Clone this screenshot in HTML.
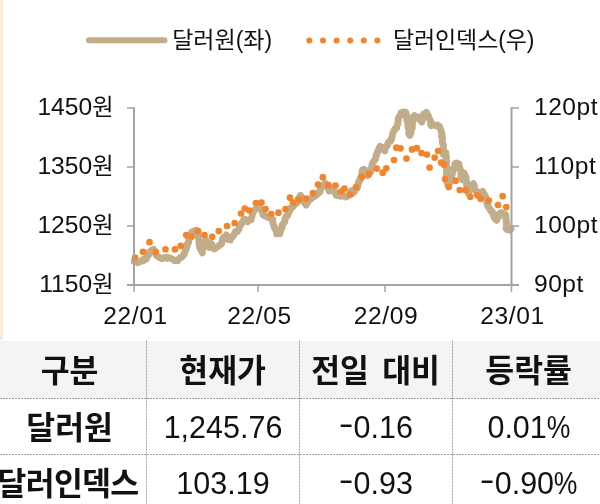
<!DOCTYPE html>
<html lang="ko"><head><meta charset="utf-8"><title>달러원 · 달러인덱스</title>
<style>
html,body{margin:0;padding:0;background:#fff;}
body{width:600px;height:504px;overflow:hidden;position:relative;font-family:"Liberation Sans", "Noto Sans CJK KR", sans-serif;color:#111;}
.strip{position:absolute;left:0;top:0;width:3px;height:340px;background:#fdebd3;}
svg{position:absolute;left:0;top:0;}
svg text{font-family:"Liberation Sans", "Noto Sans CJK KR", sans-serif;fill:#111;}
table{position:absolute;left:-6.5px;top:340.5px;width:612px;border-collapse:collapse;table-layout:fixed;}
td,th{width:153px;padding:0;text-align:center;white-space:nowrap;overflow:visible;}
th{height:57.5px;background:#f4f4f4;font-weight:bold;font-size:31.4px;}
td{height:56px;font-size:30.5px;}
td.h{font-weight:bold;font-size:31.4px;}
.k{display:inline-block;letter-spacing:0;word-spacing:4.5px;margin-left:-0.8px;position:relative;top:-0.7px;}
.k5{letter-spacing:-0.7px;margin-left:-4px;}
.m{display:inline-block;transform:translateY(-4.5px) scaleX(1.45);margin:0 2.2px 0 2.2px;}
.p{display:inline-block;transform:scaleX(0.87);margin:0 -1.7px;}
.n{position:relative;top:1.5px;}
.grid line{stroke:#a39f97;stroke-width:1;stroke-dasharray:2 1;}
</style></head><body>
<div class="strip"></div>
<svg width="600" height="340" viewBox="0 0 600 340">
<polyline points="134.3,261.4 136.4,261.7 138.0,262.8 138.9,262.3 140.2,261.5 141.6,260.3 143.3,260.8 144.3,258.8 146.1,259.3 147.1,256.8 148.5,254.7 149.4,253.6 149.5,252.1 150.5,252.2 151.2,250.6 153.6,249.3 154.2,250.2 154.4,252.0 155.7,253.9 156.6,255.7 158.0,256.6 159.6,257.7 160.4,257.8 162.0,258.7 164.2,257.6 166.5,257.3 167.3,258.3 168.3,257.6 169.5,257.8 171.8,258.9 173.4,259.7 174.7,260.7 176.1,260.9 177.8,260.6 179.0,258.8 180.1,257.6 182.1,256.9 183.6,254.6 184.4,254.3 184.7,252.3 185.5,250.0 186.1,249.5 186.5,247.0 187.1,246.7 187.2,244.4 188.0,243.7 188.7,242.3 188.6,240.0 189.1,239.5 190.1,236.8 189.7,235.5 190.4,234.8 191.4,233.2 191.5,232.4 193.4,231.4 195.5,230.3 196.3,231.0 197.7,230.7 198.2,233.5 198.5,235.0 198.3,235.8 198.3,237.7 198.6,238.2 198.9,239.9 199.2,241.2 199.0,242.9 199.3,244.8 199.4,247.2 200.1,247.4 200.4,249.1 201.2,250.0 202.3,252.9 202.5,250.5 202.6,248.3 203.3,247.1 204.3,245.4 204.2,245.1 205.4,242.0 206.0,240.1 206.8,243.4 207.9,244.4 208.3,245.3 209.2,247.5 210.5,246.0 211.3,243.5 212.3,246.2 212.9,247.2 213.3,248.4 214.7,249.0 216.4,247.2 217.5,246.6 218.8,246.0 220.5,244.2 221.4,243.9 222.3,241.1 222.4,239.2 223.2,237.5 224.9,237.2 226.3,235.0 226.8,236.9 226.9,238.0 228.4,239.5 230.3,240.0 230.5,239.2 231.5,237.9 233.0,235.8 233.7,235.3 235.2,232.4 235.6,231.4 237.4,231.6 237.6,230.6 239.1,228.9 239.2,227.4 239.6,225.1 241.1,224.9 241.4,224.1 241.9,222.7 243.3,220.5 243.8,219.6 244.7,219.2 246.3,219.9 247.6,221.7 249.4,219.9 251.1,219.7 251.4,218.3 252.0,216.1 252.5,213.6 252.9,212.4 253.5,212.0 254.7,210.0 256.2,208.6 257.3,207.5 259.1,207.0 259.4,207.8 260.4,208.4 261.8,210.0 262.1,212.1 262.9,213.2 263.1,215.0 264.5,215.8 266.0,216.1 267.5,217.3 269.2,217.7 270.9,217.6 272.1,219.8 272.8,219.8 272.6,221.9 273.1,223.0 273.6,225.3 274.8,227.4 274.7,228.7 275.7,229.4 276.6,232.3 276.7,233.8 278.1,233.0 280.0,233.6 279.8,231.7 280.8,230.4 281.2,229.2 282.1,227.3 282.3,226.6 282.1,225.1 283.1,224.0 283.3,223.4 284.8,221.8 284.9,219.1 285.5,218.5 286.5,215.8 287.4,215.7 288.6,213.1 288.6,212.8 289.7,211.0 289.9,208.5 291.2,207.9 291.6,207.8 293.1,206.5 293.6,205.6 294.6,204.7 296.0,202.7 297.1,202.8 297.8,199.3 299.0,198.2 299.6,196.7 300.6,195.5 301.4,197.1 302.5,198.6 302.9,199.9 303.3,201.1 304.5,202.6 306.2,205.1 306.4,203.7 307.9,201.8 308.6,201.1 309.0,200.6 309.9,199.0 311.2,198.9 311.8,197.6 313.5,196.9 314.6,196.1 315.6,195.3 316.7,195.1 318.1,192.7 319.1,192.6 320.5,190.8 320.5,188.5 321.2,187.4 321.7,185.9 323.0,185.3 325.0,183.1 325.5,185.3 326.8,185.7 327.3,187.5 328.6,189.3 329.2,191.0 330.2,189.9 331.4,189.5 332.5,188.1 333.5,189.9 334.4,191.7 335.3,193.3 336.2,195.2 336.9,195.7 339.0,195.4 340.2,196.3 341.0,196.1 343.4,195.2 344.7,196.6 345.6,197.0 347.0,196.6 348.3,195.6 349.1,194.7 350.2,193.3 350.7,191.2 351.6,190.7 353.2,193.0 354.5,191.4 355.4,190.3 356.1,187.9 357.3,188.0 357.5,186.3 358.2,184.1 358.7,183.0 358.6,181.6 359.7,180.2 360.2,180.2 360.5,177.5 361.0,176.5 361.8,174.8 362.1,172.2 362.1,170.9 363.2,169.4 364.3,169.5 365.1,170.6 366.5,172.9 367.3,173.8 367.9,175.6 368.6,173.4 369.8,172.0 370.7,171.8 370.2,169.5 371.5,169.0 371.6,166.3 371.8,166.0 372.3,163.9 372.9,162.5 374.4,160.4 374.9,159.7 375.7,158.6 375.7,157.6 376.6,154.6 376.6,154.1 377.6,152.3 377.8,151.0 378.5,150.4 378.8,148.9 380.1,146.3 381.3,148.0 382.4,147.9 383.0,149.3 384.8,150.9 385.0,149.0 385.7,146.8 386.3,146.6 387.3,145.5 388.0,142.9 389.0,141.4 390.4,141.3 391.4,139.5 391.6,138.1 392.4,135.8 392.7,133.4 393.2,132.5 393.8,131.3 394.7,129.0 396.8,127.9 396.7,126.8 396.9,126.0 397.9,123.6 397.9,122.1 398.2,120.8 398.1,118.8 398.5,118.6 399.6,115.8 400.8,115.6 401.1,112.5 402.5,112.2 404.2,112.0 405.7,112.1 406.3,114.8 406.7,115.6 406.6,117.4 406.8,118.7 406.8,120.2 407.9,121.5 407.7,124.0 408.3,124.8 407.9,126.4 408.3,128.3 409.1,130.5 409.2,130.6 408.6,133.3 409.7,134.4 409.6,135.1 409.8,135.3 410.6,133.8 411.2,131.2 410.7,129.6 411.5,129.2 412.3,127.8 412.3,126.2 412.4,124.2 412.2,123.0 412.7,121.6 413.3,118.9 413.1,117.2 413.8,116.4 414.5,115.6 416.0,116.8 417.1,116.8 418.6,117.0 419.3,119.2 420.9,120.9 421.8,122.0 421.6,120.0 422.8,119.3 422.6,116.5 423.3,116.2 423.7,113.9 425.5,114.5 426.5,112.3 427.2,114.4 428.2,115.5 428.9,118.0 429.2,118.5 430.2,120.2 430.7,121.5 430.6,124.0 431.3,125.8 433.0,124.4 434.2,124.9 436.2,125.8 437.4,125.1 439.2,126.5 439.6,126.4 440.0,128.6 441.2,131.1 441.5,132.9 442.0,133.4 441.5,136.2 442.3,136.3 442.4,138.6 442.4,140.2 442.3,141.2 442.5,143.3 443.4,144.5 443.5,146.2 443.0,148.9 443.6,149.7 443.0,151.3 443.4,153.7 443.4,154.3 445.0,152.4 445.4,152.6 445.9,152.8 445.3,154.4 446.3,156.4 446.3,159.1 446.0,159.6 446.8,161.8 446.2,163.6 446.4,164.4 446.2,166.9 447.1,168.2 447.1,168.7 446.4,171.1 447.1,173.6 446.5,173.9 446.5,175.9 447.0,177.0 446.8,179.5 446.8,181.2 447.1,182.0 447.3,183.7 448.2,184.7 448.6,184.8 449.6,182.4 450.3,182.1 450.9,181.3 451.7,179.8 451.3,176.6 451.4,175.8 452.3,174.2 452.1,172.6 452.7,171.5 453.3,170.4 453.7,167.6 454.4,166.5 454.6,165.2 455.2,163.5 456.5,163.0 458.3,163.6 459.0,164.2 459.2,167.1 459.7,167.4 460.3,169.8 460.9,170.5 460.7,173.4 461.4,175.3 461.0,175.8 461.4,177.3 462.6,179.6 462.9,177.9 463.2,176.6 462.9,175.7 464.0,173.1 464.0,172.6 464.2,173.4 464.7,174.3 465.5,176.2 466.1,177.0 465.6,178.9 466.5,180.2 466.3,181.8 467.0,184.0 466.5,184.8 467.2,187.0 467.8,187.6 467.6,190.1 468.2,190.8 468.5,193.4 469.0,191.3 469.5,189.6 470.4,189.2 470.4,186.4 471.2,185.0 471.8,185.0 473.4,183.6 473.8,185.2 474.3,185.4 474.3,187.6 475.3,189.7 475.6,190.8 476.7,192.2 477.2,193.4 478.8,194.0 479.6,192.6 481.8,193.1 482.7,191.3 484.1,194.3 484.2,194.1 485.3,196.2 485.9,198.1 486.3,198.9 486.7,200.7 486.8,203.5 487.7,204.0 487.6,206.0 488.8,207.2 489.3,208.1 490.7,210.5 490.9,211.1 492.3,211.6 492.9,213.3 493.3,215.5 493.9,216.6 494.7,218.2 495.7,219.6 496.7,220.4 496.9,219.2 498.0,217.0 498.9,216.5 499.2,213.9 500.6,212.9 501.7,212.6 502.9,213.6 504.5,213.9 505.8,214.9 506.0,217.9 505.9,218.3 506.0,220.6 506.5,221.8 506.5,225.1 506.4,226.5 506.0,228.5 507.2,229.6 508.5,229.4 509.8,230.2 511.0,228.8" fill="none" stroke="#c2ad8b" stroke-width="6.9" stroke-linejoin="round" stroke-linecap="round"/>
<g fill="#f4842c"><circle cx="135.0" cy="257.5" r="3.35"/><circle cx="143.0" cy="251.8" r="3.35"/><circle cx="149.5" cy="242.2" r="3.35"/><circle cx="155.8" cy="252.0" r="3.35"/><circle cx="165.5" cy="249.3" r="3.35"/><circle cx="175.0" cy="249.3" r="3.35"/><circle cx="180.8" cy="245.8" r="3.35"/><circle cx="186.3" cy="235.0" r="3.35"/><circle cx="191.5" cy="236.5" r="3.35"/><circle cx="198.0" cy="231.0" r="3.35"/><circle cx="204.5" cy="235.0" r="3.35"/><circle cx="212.2" cy="236.8" r="3.35"/><circle cx="218.8" cy="231.0" r="3.35"/><circle cx="227.0" cy="226.0" r="3.35"/><circle cx="234.7" cy="223.0" r="3.35"/><circle cx="241.0" cy="213.5" r="3.35"/><circle cx="244.8" cy="208.5" r="3.35"/><circle cx="249.5" cy="210.5" r="3.35"/><circle cx="256.0" cy="203.0" r="3.35"/><circle cx="261.5" cy="202.5" r="3.35"/><circle cx="265.5" cy="209.0" r="3.35"/><circle cx="271.2" cy="214.0" r="3.35"/><circle cx="278.5" cy="212.7" r="3.35"/><circle cx="285.5" cy="209.0" r="3.35"/><circle cx="290.0" cy="197.7" r="3.35"/><circle cx="293.0" cy="202.5" r="3.35"/><circle cx="299.0" cy="199.5" r="3.35"/><circle cx="306.0" cy="198.5" r="3.35"/><circle cx="313.0" cy="193.0" r="3.35"/><circle cx="318.0" cy="184.5" r="3.35"/><circle cx="322.8" cy="177.2" r="3.35"/><circle cx="328.5" cy="185.0" r="3.35"/><circle cx="335.5" cy="185.5" r="3.35"/><circle cx="341.0" cy="191.5" r="3.35"/><circle cx="344.5" cy="188.5" r="3.35"/><circle cx="350.3" cy="194.4" r="3.35"/><circle cx="356.0" cy="187.0" r="3.35"/><circle cx="361.9" cy="176.9" r="3.35"/><circle cx="369.0" cy="173.9" r="3.35"/><circle cx="376.8" cy="168.6" r="3.35"/><circle cx="382.7" cy="172.7" r="3.35"/><circle cx="386.3" cy="168.3" r="3.35"/><circle cx="394.0" cy="160.0" r="3.35"/><circle cx="396.4" cy="147.7" r="3.35"/><circle cx="400.6" cy="148.3" r="3.35"/><circle cx="406.5" cy="158.6" r="3.35"/><circle cx="412.0" cy="149.4" r="3.35"/><circle cx="416.8" cy="148.2" r="3.35"/><circle cx="421.5" cy="153.0" r="3.35"/><circle cx="426.9" cy="154.5" r="3.35"/><circle cx="429.6" cy="167.5" r="3.35"/><circle cx="434.7" cy="157.6" r="3.35"/><circle cx="438.1" cy="151.0" r="3.35"/><circle cx="441.2" cy="162.7" r="3.35"/><circle cx="444.1" cy="164.8" r="3.35"/><circle cx="445.1" cy="179.1" r="3.35"/><circle cx="448.7" cy="187.0" r="3.35"/><circle cx="455.6" cy="180.7" r="3.35"/><circle cx="459.8" cy="190.0" r="3.35"/><circle cx="465.7" cy="190.2" r="3.35"/><circle cx="470.3" cy="196.8" r="3.35"/><circle cx="477.4" cy="195.3" r="3.35"/><circle cx="480.6" cy="198.8" r="3.35"/><circle cx="488.8" cy="200.6" r="3.35"/><circle cx="498.0" cy="205.0" r="3.35"/><circle cx="502.7" cy="196.2" r="3.35"/><circle cx="506.3" cy="207.1" r="3.35"/></g>
<g stroke="#a3a3a3" fill="none">
<path d="M134 107.3V286M511.5 107.3V286" stroke-width="2"/>
<path d="M127 285H519" stroke-width="2"/>
<path d="M127 108H134M127 167H134M127 226H134M511 108H519M511 167H519M511 226H519M134 285V292M258 285V292M385 285V292M511.5 285V292" stroke-width="1.5"/>
</g>
<line x1="89" y1="40.3" x2="164.5" y2="40.3" stroke="#c2ad8b" stroke-width="6" stroke-linecap="round"/>
<g fill="#f4842c"><circle cx="309.4" cy="40.4" r="3"/><circle cx="323" cy="40.4" r="3"/><circle cx="336.6" cy="40.4" r="3"/><circle cx="350.2" cy="40.4" r="3"/><circle cx="363.8" cy="40.4" r="3"/><circle cx="377.4" cy="40.4" r="3"/></g>
<g font-size="24.6">
<text x="172.2" y="47.6" font-size="23">달러원(좌)</text>
<text x="393.1" y="47.6" font-size="23" letter-spacing="-0.15">달러인덱스(우)</text>
<text x="113.5" y="114.8" text-anchor="end">1450<tspan font-size="23.2">원</tspan></text>
<text x="113.5" y="173.8" text-anchor="end">1350<tspan font-size="23.2">원</tspan></text>
<text x="113.5" y="232.8" text-anchor="end">1250<tspan font-size="23.2">원</tspan></text>
<text x="113.5" y="291.8" text-anchor="end">1150<tspan font-size="23.2">원</tspan></text>
<text x="534" y="114.6" letter-spacing="0.5">120pt</text>
<text x="534" y="173.6" letter-spacing="0.5">110pt</text>
<text x="534" y="232.6" letter-spacing="0.5">100pt</text>
<text x="534" y="291.6" letter-spacing="0.5">90pt</text>
<text x="135.5" y="323.8" text-anchor="middle" letter-spacing="0.6">22/01</text>
<text x="259.5" y="323.8" text-anchor="middle" letter-spacing="0.6">22/05</text>
<text x="386" y="323.8" text-anchor="middle" letter-spacing="0.6">22/09</text>
<text x="512.5" y="323.8" text-anchor="middle" letter-spacing="0.6">23/01</text>
</g>
</svg>
<table>
<tr><th><span class="k">구분</span></th><th><span class="k">현재가</span></th><th><span class="k">전일 대비</span></th><th><span class="k">등락률</span></th></tr>
<tr><td class="h"><span class="k">달러원</span></td><td><span class="n">1,245.76</span></td><td><span class="n"><span class="m">-</span>0.16</span></td><td><span class="n">0.01<span class="p">%</span></span></td></tr>
<tr><td class="h"><span class="k k5">달러인덱스</span></td><td><span class="n">103.19</span></td><td><span class="n"><span class="m">-</span>0.93</span></td><td><span class="n"><span class="m">-</span>0.90<span class="p">%</span></span></td></tr>
</table>
<svg class="grid" width="600" height="164" viewBox="0 340 600 164" style="top:340px">
<line x1="146.5" y1="340.5" x2="146.5" y2="504"/><line x1="299.5" y1="340.5" x2="299.5" y2="504"/><line x1="452.5" y1="340.5" x2="452.5" y2="504"/>
<line x1="0" y1="398.5" x2="600" y2="398.5"/><line x1="0" y1="454.5" x2="600" y2="454.5"/>
</svg>
</body></html>
